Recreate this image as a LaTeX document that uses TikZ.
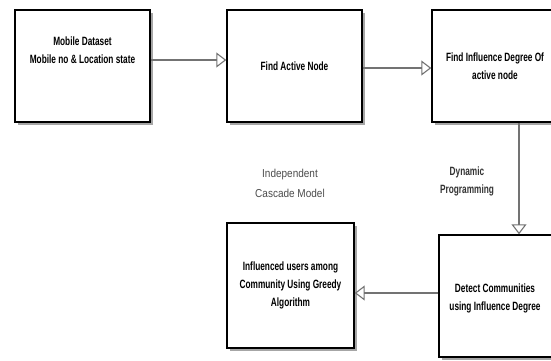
\documentclass[tikz,border=0pt]{standalone}
\usepackage{fontspec}
\setmainfont{Liberation Sans}
\newfontfamily\narrowfont{Liberation Sans}[FakeStretch=0.69]
\newfontfamily\semifont{Liberation Sans}[FakeStretch=0.87]
\usetikzlibrary{arrows.meta,shadows}
\begin{document}
\begin{tikzpicture}[x=1pt,y=-1pt,
  boxfont/.style={font=\narrowfont\bfseries\fontsize{12}{18}\selectfont},
  boxst/.style={draw=black,line width=1.4pt,fill=white,minimum width=#1,
    align=center,boxfont,
    drop shadow={shadow xshift=3pt,shadow yshift=-3pt,fill=black!35,opacity=1}},
  conn/.style={draw=black!55,line width=1.4pt,
    -{Triangle[open,length=10pt,width=15pt,line width=1.1pt]}},
  lbl/.style={align=center,text=black!80}]
\clip (0,0) rectangle (551,360);
\fill[white] (0,0) rectangle (551,360);
% boxes
\node[boxst=135pt,minimum height=112pt] (ds) at (82.5,66) {};
\node[align=center,boxfont] (dstext) at (82.5,50) {Mobile Dataset\\Mobile no \& Location state};
\node[boxst=135pt,minimum height=112pt] (fa) at (294.5,66) {Find Active Node};
\node[boxst=126pt,minimum height=112pt] (fi) at (495,66) {Find Influence Degree Of\\active node};
\node[boxst=127pt,minimum height=125pt] (iu) at (290.5,285.5) {Influenced users among\\Community Using Greedy\\Algorithm};
\node[boxst=122pt,minimum height=122pt] (dc) at (500,296) {};
\node[align=center,boxfont] (dctext) at (495,298.5) {Detect Communities\\using Influence Degree};
% connectors
\coordinate (a1) at (ds.east |- 0,60);
\coordinate (b1) at (fa.west |- 0,60);
\draw[conn] (a1) -- (b1);
\coordinate (a2) at (fa.east |- 0,68);
\coordinate (b2) at (fi.west |- 0,68);
\draw[conn] (a2) -- (b2);
\coordinate (a3) at (fi.south -| 519,0);
\coordinate (b3) at (dc.north -| 519,0);
\draw[conn] (a3) -- (b3);
\coordinate (a4) at (dc.west |- 0,293);
\coordinate (b4) at (iu.east |- 0,293);
\draw[conn] (a4) -- (b4);
% labels
\node[lbl,font=\semifont\fontsize{11.5}{20}\selectfont,text=black!70] (icm) at (290,183) {Independent\\Cascade Model};
\node[lbl,font=\narrowfont\bfseries\fontsize{12}{18}\selectfont] (dp) at (467,181) {Dynamic\\Programming};
\end{tikzpicture}
\end{document}
